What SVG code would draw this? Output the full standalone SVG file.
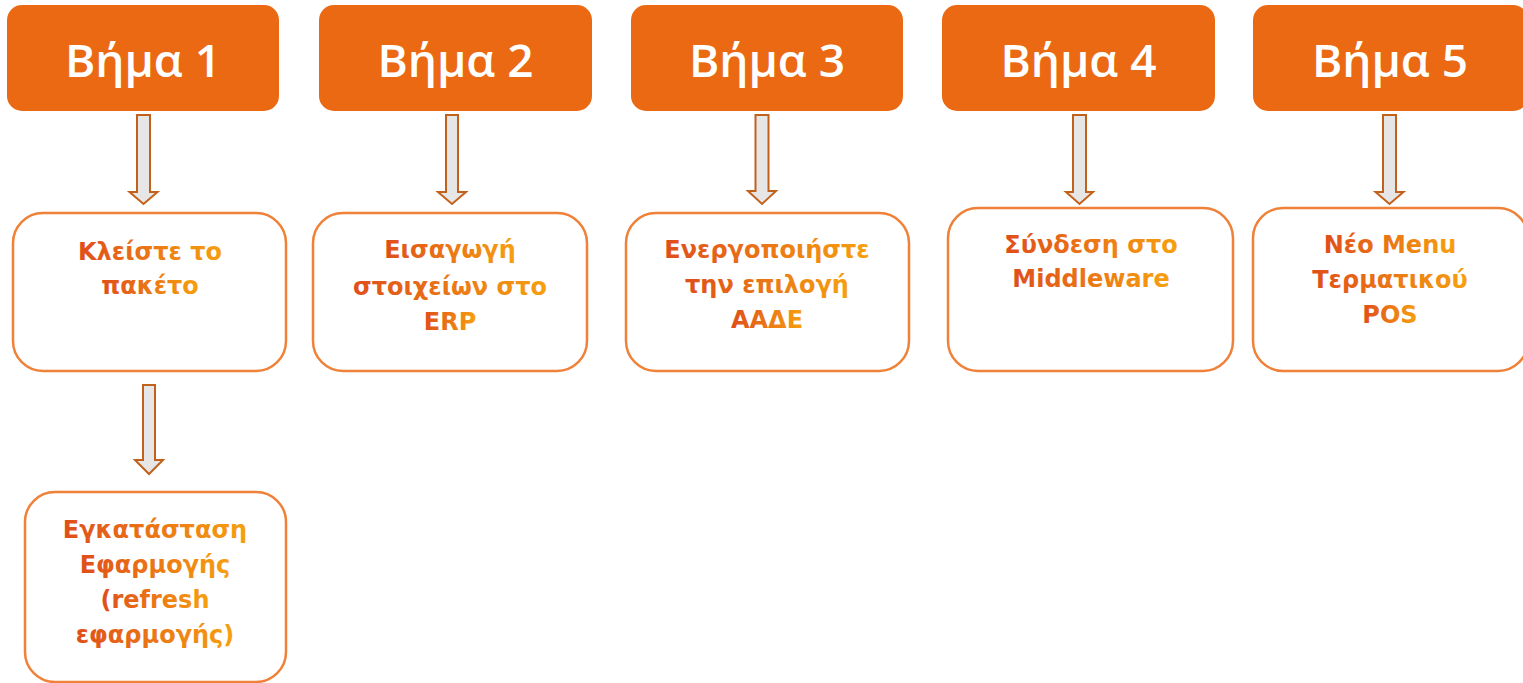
<svg xmlns="http://www.w3.org/2000/svg" width="1523" height="683" viewBox="0 0 1523 683">
<style>
.hdr{fill:#ec6913;}
.htxt{font-family:"Open Sans","Noto Sans",sans-serif;font-size:46px;font-weight:600;fill:#ffffff;text-anchor:middle;}
.box{fill:#ffffff;stroke:#ef8139;stroke-width:2.5;}
.btxt{font-family:"DejaVu Sans","Noto Sans",sans-serif;font-weight:bold;font-size:24px;text-anchor:middle;fill:url(#tg);}
.arr{fill:#e6e6e6;stroke:#c2611c;stroke-width:2;stroke-linejoin:miter;}
</style>
<defs>
<linearGradient id="tg" x1="0" y1="0" x2="1" y2="0">
<stop offset="0" stop-color="#df4e1a"/>
<stop offset="1" stop-color="#f6a00f"/>
</linearGradient>
</defs>
<rect width="1523" height="683" fill="#ffffff"/>
<g id="step1"><rect class="hdr" x="7" y="5" width="272" height="106" rx="15"/><text class="htxt" x="143" y="77">Βήμα 1</text></g>
<g id="step2"><rect class="hdr" x="319" y="5" width="273" height="106" rx="15"/><text class="htxt" x="455.5" y="77">Βήμα 2</text></g>
<g id="step3"><rect class="hdr" x="631" y="5" width="272" height="106" rx="15"/><text class="htxt" x="767" y="77">Βήμα 3</text></g>
<g id="step4"><rect class="hdr" x="942" y="5" width="273" height="106" rx="15"/><text class="htxt" x="1078.5" y="77">Βήμα 4</text></g>
<g id="step5"><rect class="hdr" x="1253" y="5" width="275" height="106" rx="15"/><text class="htxt" x="1390" y="77">Βήμα 5</text></g>

<g id="box1"><rect class="box" x="13" y="213" width="273" height="158" rx="30"/>
<text class="btxt" x="150" y="260">Κλείστε το</text>
<text class="btxt" x="150" y="294">πακέτο</text></g>
<g id="box1b"><rect class="box" x="25" y="492" width="261" height="190" rx="30"/>
<text class="btxt" x="155" y="538">Εγκατάσταση</text>
<text class="btxt" x="155" y="573">Εφαρμογής</text>
<text class="btxt" x="155" y="608">(refresh</text>
<text class="btxt" x="155" y="643">εφαρμογής)</text></g>
<g id="box2"><rect class="box" x="313" y="213" width="274" height="158" rx="30"/>
<text class="btxt" x="450" y="258">Εισαγωγή</text>
<text class="btxt" x="450" y="295">στοιχείων στο</text>
<text class="btxt" x="450" y="330">ERP</text></g>
<g id="box3"><rect class="box" x="626" y="213" width="283" height="158" rx="30"/>
<text class="btxt" x="767" y="258">Ενεργοποιήστε</text>
<text class="btxt" x="767" y="293">την επιλογή</text>
<text class="btxt" x="767" y="328">ΑΑΔΕ</text></g>
<g id="box4"><rect class="box" x="948" y="208" width="285" height="163" rx="30"/>
<text class="btxt" x="1091" y="253">Σύνδεση στο</text>
<text class="btxt" x="1091" y="287">Middleware</text></g>
<g id="box5"><rect class="box" x="1253" y="208" width="275" height="163" rx="30"/>
<text class="btxt" x="1390" y="253">Νέο Menu</text>
<text class="btxt" x="1390" y="288">Τερματικού</text>
<text class="btxt" x="1390" y="323">POS</text></g>

<g id="connectors">
<path class="arr" d="M137,115H150V192H157.5L143.5,204L129.5,192H137Z"/>
<path class="arr" d="M143,385H155V460H163L149,474L135,460H143Z"/>
<path class="arr" d="M446,115H458V192H466L452,204L438,192H446Z"/>
<path class="arr" d="M755.5,115H768.5V191H776L762,204L748,191H755.5Z"/>
<path class="arr" d="M1073,115H1086V192H1093L1079.5,204L1066,192H1073Z"/>
<path class="arr" d="M1383,115H1396V192H1403.5L1389.5,204L1375.5,192H1383Z"/>
</g>
</svg>
